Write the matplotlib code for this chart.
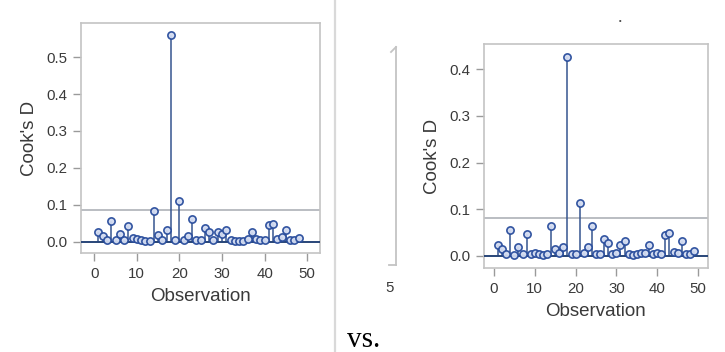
import matplotlib
matplotlib.use("Agg")
import matplotlib.pyplot as plt
from matplotlib.lines import Line2D

# ---- data ----
left_obs = list(range(1, 49))
left_cooks = [0.025, 0.014, 0.003, 0.057, 0.003, 0.020, 0.005, 0.043, 0.009, 0.006,
              0.003, 0.001, 0.002, 0.083, 0.018, 0.005, 0.032, 0.560, 0.003, 0.110,
              0.005, 0.014, 0.061, 0.003, 0.004, 0.036, 0.027, 0.003, 0.025, 0.020,
              0.032, 0.003, 0.002, 0.001, 0.002, 0.006, 0.025, 0.008, 0.004, 0.003,
              0.044, 0.048, 0.006, 0.012, 0.032, 0.003, 0.004, 0.011]
left_cutoff = 0.086

right_obs = list(range(1, 50))
right_cooks = [0.024, 0.014, 0.004, 0.056, 0.002, 0.020, 0.004, 0.046, 0.005, 0.006,
               0.003, 0.002, 0.003, 0.065, 0.014, 0.006, 0.020, 0.427, 0.003, 0.004,
               0.114, 0.006, 0.018, 0.063, 0.003, 0.004, 0.036, 0.027, 0.003, 0.006,
               0.024, 0.031, 0.003, 0.002, 0.004, 0.006, 0.006, 0.024, 0.004, 0.006,
               0.005, 0.044, 0.049, 0.008, 0.006, 0.031, 0.003, 0.004, 0.011]
right_cutoff = 0.082

x_ticks = [0, 10, 20, 30, 40, 50]
left_yticks = [0.0, 0.1, 0.2, 0.3, 0.4, 0.5]
right_yticks = [0.0, 0.1, 0.2, 0.3, 0.4]

W, H = 725, 352
fig = plt.figure(figsize=(W / 100, H / 100), dpi=100)
fig.patch.set_facecolor("white")

FONT = "Liberation Sans"
FRAME = "#c4c4c4"
TXT = "#3a3a3a"
STEM = "#36558f"
MEDGE = "#284c9c"
MFACE = "#d3dcf1"
ZERO = "#284578"
REF = "#aeb2b8"


def px_axes(x0, y0, x1, y1):
    return fig.add_axes([x0 / W, 1 - y1 / H, (x1 - x0) / W, (y1 - y0) / H])


def cooks_panel(ax, obs, vals, cutoff, yticks, xlim, ylim):
    ax.set_xlim(*xlim)
    ax.set_ylim(*ylim)
    ax.axhline(cutoff, color=REF, lw=1.2, zorder=1)
    ax.vlines(obs, 0, vals, color=STEM, lw=1.1, zorder=2)
    ax.axhline(0, color=ZERO, lw=1.4, zorder=3)
    ax.plot(obs, vals, linestyle="none", marker="o", markersize=5.2,
            markerfacecolor=MFACE, markeredgecolor=MEDGE, markeredgewidth=1.2,
            alpha=0.95, zorder=4)
    ax.set_xticks(x_ticks)
    ax.set_yticks(yticks)
    ax.set_yticklabels([f"{v:.1f}" for v in yticks])
    for s in ax.spines.values():
        s.set_color(FRAME)
        s.set_linewidth(1.2)
    ax.tick_params(axis="both", colors="#9a9a9a", length=6, width=1,
                   labelcolor=TXT, labelsize=10.8, pad=4)
    for lab in ax.get_xticklabels() + ax.get_yticklabels():
        lab.set_fontfamily(FONT)
    ax.set_xlabel("Observation", fontsize=13.5, color=TXT, family=FONT, labelpad=5)
    ax.set_ylabel("Cook's D", fontsize=13.5, color=TXT, family=FONT, labelpad=6)


ax1 = px_axes(81, 23, 320, 253)
cooks_panel(ax1, left_obs, left_cooks, left_cutoff, left_yticks,
            (-3.1, 53.0), (-0.031, 0.593))

ax2 = px_axes(484, 44, 708, 268)
cooks_panel(ax2, right_obs, right_cooks, right_cutoff, right_yticks,
            (-2.45, 52.45), (-0.026, 0.454))

# separator line
fig.add_artist(Line2D([335 / W, 335 / W], [0, 1], color="#d9d9d9", lw=1.6))

# cut-off frame fragment of a neighbouring plot
fig.add_artist(Line2D([396 / W, 396 / W], [1 - 47 / H, 1 - 265 / H], color=FRAME, lw=1.3))
fig.add_artist(Line2D([389 / W, 396 / W], [1 - 265 / H, 1 - 265 / H], color=FRAME, lw=1.3))
fig.add_artist(Line2D([391 / W, 396 / W], [1 - 52 / H, 1 - 47 / H], color=FRAME, lw=1.3))
fig.text(390 / W, 1 - 288 / H, "5", fontsize=10.8, color=TXT, family=FONT,
         ha="center", va="center")

# faint title fragment
fig.text(620 / W, 1 - 21 / H, "·", fontsize=14, color="#555555", family=FONT,
         ha="center", va="center")

fig.text(347 / W, 1 - 347 / H, "vs.", fontsize=21, color="black",
         family="Liberation Serif", ha="left", va="baseline")

fig.savefig("out.png", dpi=100, facecolor="white")
